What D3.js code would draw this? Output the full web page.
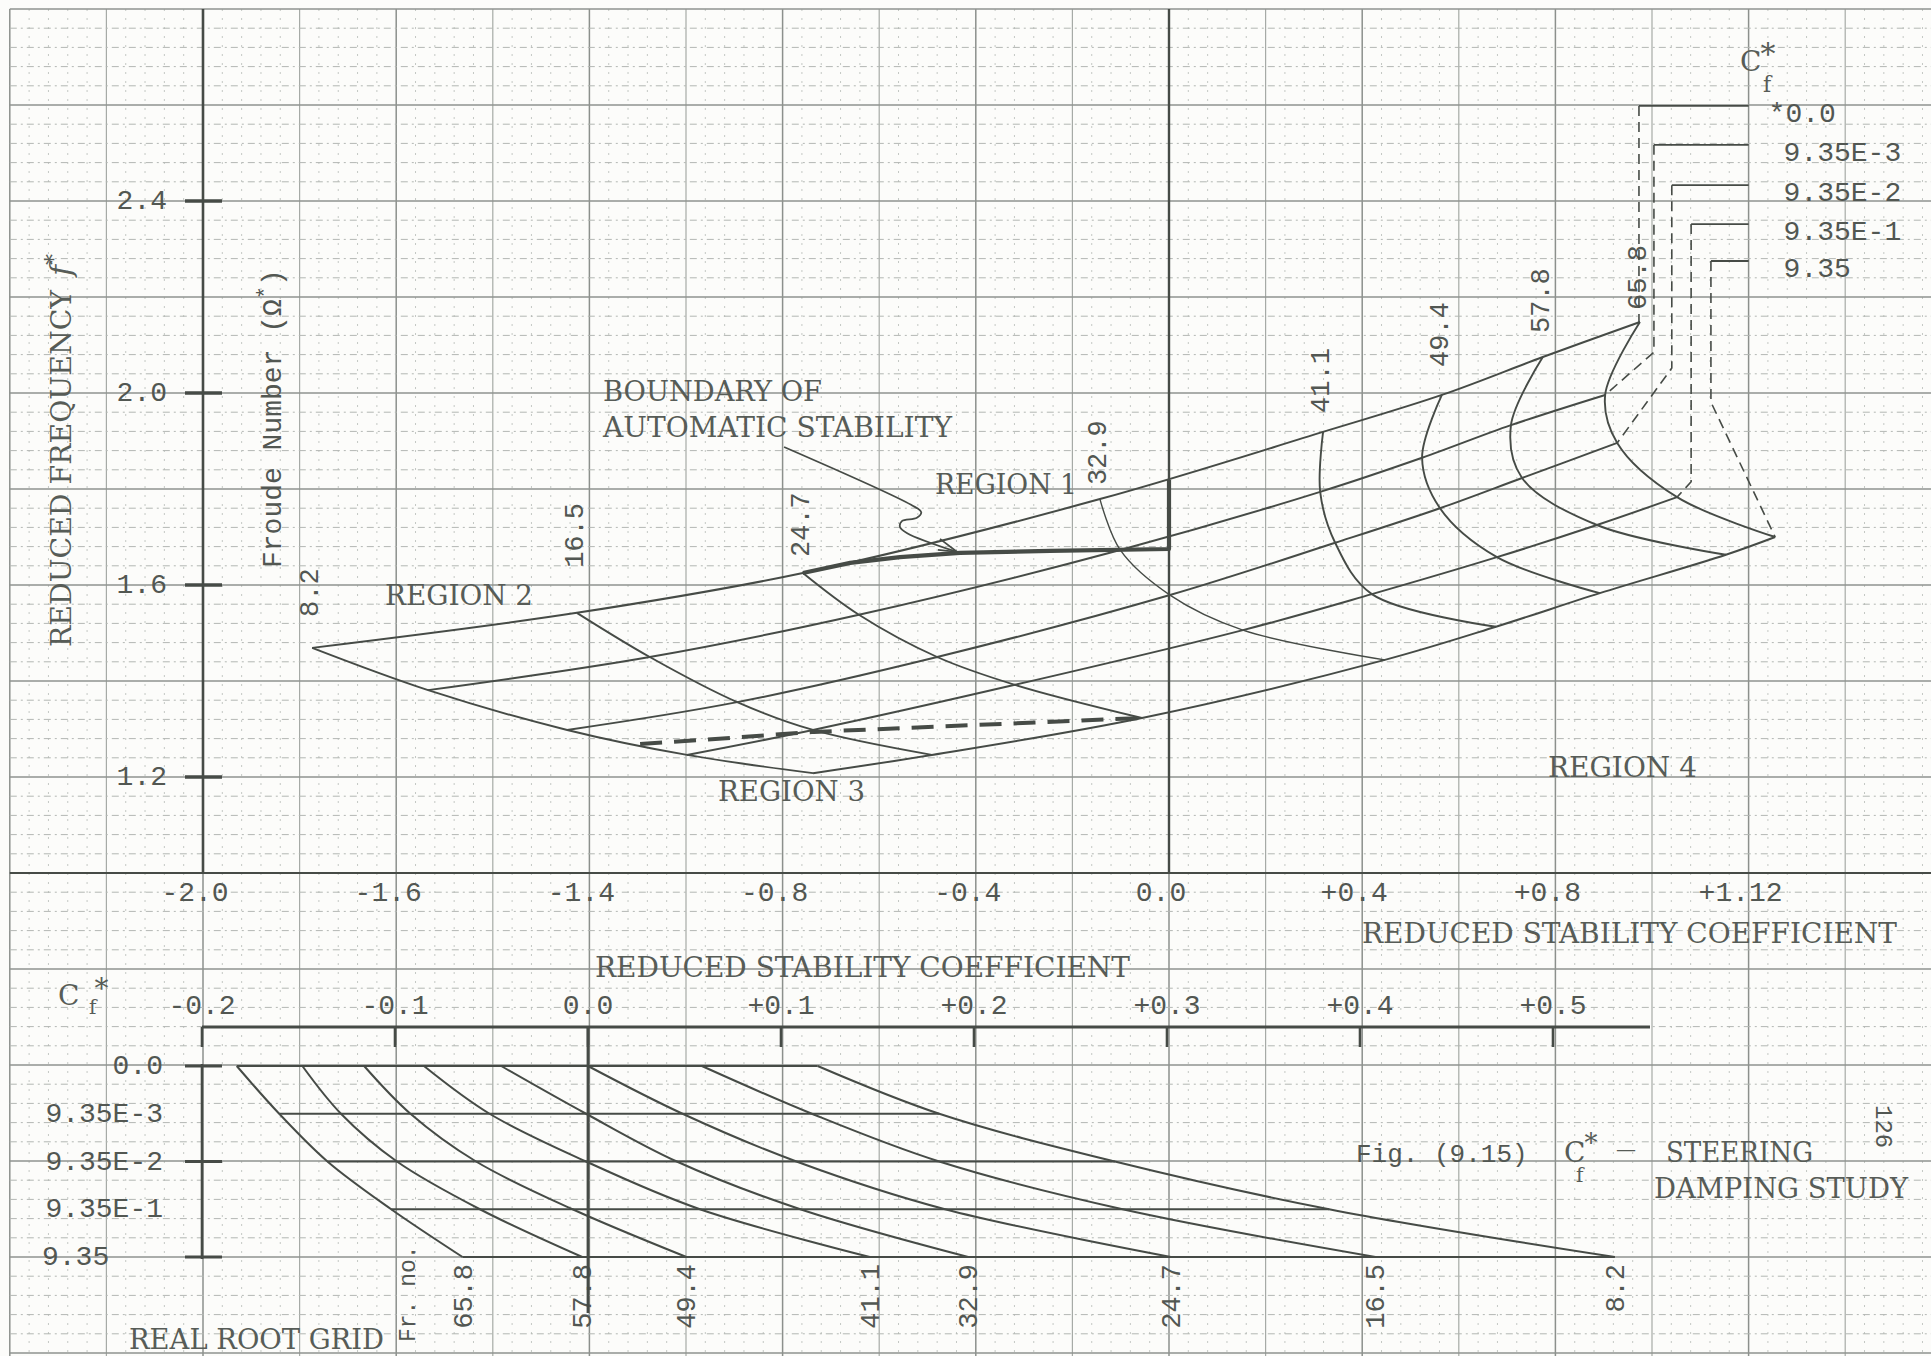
<!DOCTYPE html>
<html>
<head>
<meta charset="utf-8">
<script src="https://cdn.jsdelivr.net/npm/d3@7/dist/d3.min.js"></script>
<style>
  html, body { margin:0; padding:0; background:#fcfcfa; }
  svg { display:block; }
  .lt { font-family:"DejaVu Serif","Liberation Serif",serif; fill:#575c57; }
  .tw { font-family:"Liberation Mono","DejaVu Sans Mono",monospace; fill:#525752; }
</style>
</head>
<body>
<svg id="chart" width="1931" height="1356" viewBox="0 0 1931 1356"></svg>
<script>
// ================= DATA =================
const froudeNumbers = ["8.2","16.5","24.7","32.9","41.1","49.4","57.8","65.8"];
const cfValues = ["0.0","9.35E-3","9.35E-2","9.35E-1","9.35"];

const freqTickValues = [2.4, 2.0, 1.6, 1.2];
const freqTickLabels = ["2.4","2.0","1.6","1.2"];
const stabTickValues = [-2.0,-1.6,-1.2,-0.8,-0.4,0.0,0.4,0.8,1.2];
const stabTickLabels = ["-2.0","-1.6","-1.4","-0.8","-0.4","0.0","+0.4","+0.8","+1.12"];
const realTickValues = [-0.2,-0.1,0.0,0.1,0.2,0.3,0.4,0.5];
const realTickLabels = ["-0.2","-0.1","0.0","+0.1","+0.2","+0.3","+0.4","+0.5"];

// complex roots: rows = Froude number, columns = C*f
const complexSigma = [
  [-1.774,-1.534,-1.246,-0.998,-0.737],
  [-1.226,-1.075,-0.894,-0.737,-0.491],
  [-0.758,-0.642,-0.480,-0.319,-0.056],
  [-0.143,-0.101, 0.002, 0.153, 0.447],
  [ 0.319, 0.313, 0.344, 0.420, 0.677],
  [ 0.565, 0.524, 0.561, 0.679, 0.892],
  [ 0.774, 0.708, 0.731, 0.886, 1.153],
  [ 0.975, 0.903, 0.928, 1.052, 1.255]
];
const complexFreq = [
  [1.469,1.381,1.298,1.246,1.208],
  [1.542,1.450,1.356,1.298,1.246],
  [1.625,1.538,1.450,1.392,1.323],
  [1.779,1.673,1.579,1.506,1.444],
  [1.919,1.794,1.688,1.581,1.513],
  [1.996,1.865,1.760,1.658,1.583],
  [2.075,1.933,1.823,1.725,1.663],
  [2.148,1.996,1.896,1.783,1.700]
];
// real roots: rows = Froude number, columns = C*f
const realRootSigma = [
  [ 0.119, 0.182, 0.273, 0.384, 0.532],
  [ 0.059, 0.116, 0.182, 0.277, 0.408],
  [ 0.000, 0.049, 0.108, 0.185, 0.302],
  [-0.045,-0.001, 0.046, 0.110, 0.197],
  [-0.085,-0.051,-0.001, 0.058, 0.146],
  [-0.116,-0.092,-0.058,-0.008, 0.051],
  [-0.148,-0.128,-0.099,-0.056,-0.003],
  [-0.182,-0.160,-0.135,-0.102,-0.065]
];
const boundarySigma = [-0.758,-0.660,-0.557,-0.433,-0.246,0.0,0.0];
const boundaryFreq  = [1.625,1.646,1.658,1.667,1.671,1.675,1.819];
const region3Sigma = [-1.095,-0.971,-0.735,-0.056];
const region3Freq  = [1.269,1.277,1.294,1.323];
const arrowSigma = [-0.797,-0.534,-0.513,-0.522,-0.553,-0.557,-0.542,-0.439];
const arrowFreq  = [1.8875,1.767,1.752,1.740,1.733,1.721,1.708,1.669];
const legendLeaderSigma = [0.973,1.004,1.041,1.081,1.122];
const legendRowFreq = [2.598,2.517,2.433,2.352,2.275];
const legendBendFreq = [2.148,2.085,2.052,1.815,1.981];

// ================= DRAWING =================
const svg = d3.select("#chart");
const INK = "#464b46";

const xU = d3.scaleLinear().domain([-2.0, 0.0]).range([203, 1169]);
const yU = d3.scaleLinear().domain([2.0, 1.0]).range([393, 873]);
const xL = d3.scaleLinear().domain([-0.2, 0.5]).range([202, 1553]);
const yL = d3.scalePoint().domain(cfValues).range([1066, 1257]);

svg.append("rect").attr("width",1931).attr("height",1356).attr("fill","#fcfcfa");

// ---- graph paper ----
const grid = svg.append("g");
for (let k = 0; ; k++) {
  const v = -2.4 + k*0.04, x = xU(v);
  if (x > 1936) break;
  const major = k % 5 === 0, dark = k % 10 === 0;
  grid.append("line").attr("x1",x).attr("x2",x).attr("y1",yU(2.8)).attr("y2",1356)
    .attr("stroke", dark ? "#8c908c" : (major ? "#a6aaa6" : "#c4c8c4"))
    .attr("stroke-width", dark ? 1.5 : (major ? 1.2 : 1))
    .attr("stroke-dasharray", major ? null : "2,7");
}
for (let k = 0; ; k++) {
  const f = 2.8 - k*0.04, y = yU(f);
  if (y > 1356) break;
  const major = k % 5 === 0;
  grid.append("line").attr("x1",xU(-2.4)).attr("x2",1931).attr("y1",y).attr("y2",y)
    .attr("stroke", major ? "#8f938f" : "#b3b7b3")
    .attr("stroke-width", major ? 1.4 : 1)
    .attr("stroke-dasharray", major ? null : "7,4,2,4");
}

// ---- upper chart axes ----
const ax = svg.append("g").attr("stroke", INK).attr("fill","none");
ax.append("line").attr("x1",xU(-2.0)).attr("x2",xU(-2.0)).attr("y1",yU(2.8)).attr("y2",yU(1.0)).attr("stroke-width",2.6);
ax.append("line").attr("x1",xU(0)).attr("x2",xU(0)).attr("y1",yU(2.8)).attr("y2",yU(1.0)).attr("stroke-width",2.4);
ax.append("line").attr("x1",xU(-2.4)).attr("x2",1931).attr("y1",yU(1.0)).attr("y2",yU(1.0)).attr("stroke-width",2.2);
freqTickValues.forEach(v => {
  ax.append("line").attr("x1",185).attr("x2",222).attr("y1",yU(v)).attr("y2",yU(v)).attr("stroke-width",3.5);
});

const txt = svg.append("g");
freqTickValues.forEach((v,i) => {
  txt.append("text").attr("class","tw").attr("font-size",28).attr("text-anchor","end")
    .attr("x",167).attr("y",yU(v)+8).text(freqTickLabels[i]);
});
stabTickValues.forEach((v,i) => {
  txt.append("text").attr("class","tw").attr("font-size",28).attr("text-anchor","middle")
    .attr("x",xU(v)-8).attr("y",901).text(stabTickLabels[i]);
});

// ---- mesh of complex roots ----
const lineU = d3.line().x(d => xU(d[0])).y(d => yU(d[1])).curve(d3.curveCatmullRom.alpha(0.5));
const mesh = svg.append("g").attr("fill","none").attr("stroke",INK);
cfValues.forEach((c,j) => {
  const pts = froudeNumbers.map((fr,i) => [complexSigma[i][j], complexFreq[i][j]]);
  mesh.append("path").attr("d", lineU(pts)).attr("stroke-width",2);
});
froudeNumbers.forEach((fr,i) => {
  const pts = cfValues.map((c,j) => [complexSigma[i][j], complexFreq[i][j]]);
  mesh.append("path").attr("d", lineU(pts)).attr("stroke-width", i === 3 ? 1.4 : 1.9);
});
const lineLin = d3.line().x(d => xU(d[0])).y(d => yU(d[1]));
mesh.append("path").attr("d", lineLin(boundarySigma.map((s,i)=>[s,boundaryFreq[i]])))
  .attr("stroke-width",4.2).attr("stroke-linejoin","round");
mesh.append("path").attr("d", lineLin(region3Sigma.map((s,i)=>[s,region3Freq[i]])))
  .attr("stroke-width",4).attr("stroke-dasharray","22,12");
const arrowPts = arrowSigma.map((s,i)=>[s,arrowFreq[i]]);
mesh.append("path").attr("d", d3.line().x(d=>xU(d[0])).y(d=>yU(d[1])).curve(d3.curveCatmullRom)(arrowPts)).attr("stroke-width",1.8);
const tip = arrowPts[arrowPts.length-1];
const tx = xU(tip[0]), ty = yU(tip[1]);
mesh.append("path").attr("d", `M${tx-17},${ty-13}L${tx},${ty}L${tx-19},${ty-2}`).attr("stroke-width",1.8);

// legend leaders (C*f) to the 65.8 curve
const legG = svg.append("g").attr("fill","none").attr("stroke",INK);
cfValues.forEach((c,j) => {
  const lx = xU(legendLeaderSigma[j]), ly = yU(legendRowFreq[j]);
  legG.append("line").attr("x1",lx).attr("x2",xU(1.2)).attr("y1",ly).attr("y2",ly).attr("stroke-width",1.8);
  const by = yU(legendBendFreq[j]);
  const nx = xU(complexSigma[7][j]), ny = yU(complexFreq[7][j]);
  legG.append("path").attr("d",`M${lx},${ly}L${lx},${by}L${nx},${ny}`)
    .attr("stroke-width",1.6).attr("stroke-dasharray","10,6");
  const t = txt.append("text").attr("class","tw").attr("font-size",28)
    .attr("x", xU(1.2)+35).attr("y", ly+16);
  if (j === 0) { t.append("tspan").attr("dx",-15).text("*"); t.append("tspan").text(c); }
  else t.text(c);
});
const cfHead = txt.append("text").attr("class","lt").attr("font-size",28).attr("x",1740).attr("y",71);
cfHead.append("tspan").text("C");
cfHead.append("tspan").attr("font-size",30).attr("dy",-7).attr("dx",-1).text("*");
cfHead.append("tspan").attr("font-size",22).attr("x",1763).attr("dy",28).text("f");

// Froude number labels (upper)
const frLabelLift = [31,45,16,14,19,28,24,12];
froudeNumbers.forEach((fr,i) => {
  const cx = xU(complexSigma[i][0]) - 3, by = yU(complexFreq[i][0]) - frLabelLift[i];
  txt.append("text").attr("class","tw").attr("font-size",27).attr("text-anchor","start")
    .attr("transform",`translate(${cx+9},${by}) rotate(-90)`).text(fr);
});

// axis titles upper
txt.append("text").attr("class","lt").attr("font-size",28)
  .attr("transform","translate(71,647) rotate(-90)")
  .attr("textLength",357).attr("lengthAdjust","spacingAndGlyphs").text("REDUCED FREQUENCY");
const fstar = txt.append("text").attr("class","lt").attr("font-size",30)
  .attr("transform","translate(71,276) rotate(-90)");
fstar.append("tspan").attr("font-style","italic").text("f");
fstar.append("tspan").attr("font-size",22).attr("dy",-10).text("*");

const fr = txt.append("text").attr("class","tw").attr("font-size",28)
  .attr("transform","translate(281,568) rotate(-90)");
fr.append("tspan").text("Froude Number (\u03A9");
fr.append("tspan").attr("font-size",22).attr("dy",-9).text("*");
fr.append("tspan").attr("dy",9).text(")");

txt.append("text").attr("class","lt").attr("font-size",28).attr("x",1362).attr("y",943)
  .attr("textLength",535).attr("lengthAdjust","spacingAndGlyphs").text("REDUCED STABILITY COEFFICIENT");
txt.append("text").attr("class","lt").attr("font-size",28).attr("x",603).attr("y",401)
  .attr("textLength",219).attr("lengthAdjust","spacingAndGlyphs").text("BOUNDARY OF");
txt.append("text").attr("class","lt").attr("font-size",28).attr("x",603).attr("y",437)
  .attr("textLength",349).attr("lengthAdjust","spacingAndGlyphs").text("AUTOMATIC STABILITY");
[["REGION 1",935,494,142],["REGION 2",385,605,148],["REGION 3",718,801,147],["REGION 4",1548,777,149]]
  .forEach(r => txt.append("text").attr("class","lt").attr("font-size",28).attr("x",r[1]).attr("y",r[2])
    .attr("textLength",r[3]).attr("lengthAdjust","spacingAndGlyphs").text(r[0]));

// ================= LOWER CHART (real root grid) =================
const lax = svg.append("g").attr("stroke",INK).attr("fill","none");
lax.append("line").attr("x1",xL(-0.2)).attr("x2",1650).attr("y1",1027).attr("y2",1027).attr("stroke-width",3.2);
realTickValues.forEach(v => {
  lax.append("line").attr("x1",xL(v)).attr("x2",xL(v)).attr("y1",1027).attr("y2",1047).attr("stroke-width",2.6);
});
lax.append("line").attr("x1",xL(-0.2)).attr("x2",xL(-0.2)).attr("y1",yL(cfValues[0])-2).attr("y2",yL(cfValues[4])+2).attr("stroke-width",2.6);
lax.append("line").attr("x1",xL(0)).attr("x2",xL(0)).attr("y1",1027).attr("y2",1313).attr("stroke-width",2.8);
[0,2,4].forEach(j => {
  const y = yL(cfValues[j]);
  lax.append("line").attr("x1",185).attr("x2",222).attr("y1",y).attr("y2",y).attr("stroke-width",3.2);
});
realTickValues.forEach((v,i) => {
  txt.append("text").attr("class","tw").attr("font-size",28).attr("text-anchor","middle")
    .attr("x",xL(v)).attr("y",1014).text(realTickLabels[i]);
});

cfValues.forEach((c,j) => {
  const col = realRootSigma.map(r => r[j]);
  const y = yL(c);
  lax.append("line").attr("x1",xL(d3.min(col))).attr("x2",xL(d3.max(col)))
    .attr("y1",y).attr("y2",y).attr("stroke-width",2);
  const t = txt.append("text").attr("class","tw").attr("font-size",28).attr("y",y+8);
  if (j === 4) t.attr("x",42).attr("text-anchor","start").text(c);
  else t.attr("x",163).attr("text-anchor","end").text(c);
});
const lineL = d3.line().x(d => xL(d[0])).y(d => yL(d[1])).curve(d3.curveCatmullRom.alpha(0.5));
froudeNumbers.forEach((frn,i) => {
  const pts = cfValues.map((c,j) => [realRootSigma[i][j], c]);
  lax.append("path").attr("d", lineL(pts)).attr("stroke-width",2);
  const ex = xL(realRootSigma[i][4]);
  txt.append("text").attr("class","tw").attr("font-size",27).attr("text-anchor","end")
    .attr("transform",`translate(${ex+9},1264) rotate(-90)`).text(frn);
});
txt.append("text").attr("class","tw").attr("font-size",23).attr("text-anchor","start")
  .attr("transform","translate(415,1342) rotate(-90)").text("Fr. no.");

txt.append("text").attr("class","lt").attr("font-size",28).attr("x",595).attr("y",977)
  .attr("textLength",535).attr("lengthAdjust","spacingAndGlyphs").text("REDUCED STABILITY COEFFICIENT");
const cfLow = txt.append("text").attr("class","lt").attr("font-size",28).attr("x",58).attr("y",1005);
cfLow.append("tspan").text("C");
cfLow.append("tspan").attr("dx",15).attr("dy",-7).text("*");
cfLow.append("tspan").attr("font-size",20).attr("x",89).attr("dy",16).text("f");
txt.append("text").attr("class","lt").attr("font-size",28).attr("x",129).attr("y",1349)
  .attr("textLength",255).attr("lengthAdjust","spacingAndGlyphs").text("REAL ROOT GRID");

// caption
txt.append("text").attr("class","tw").attr("font-size",26).attr("x",1356).attr("y",1162).text("Fig. (9.15)");
const cap = txt.append("text").attr("class","lt").attr("font-size",28).attr("x",1564).attr("y",1162);
cap.append("tspan").text("C");
cap.append("tspan").attr("font-size",26).attr("dy",-10).attr("dx",-1).text("*");
cap.append("tspan").attr("font-size",20).attr("x",1576).attr("dy",30).text("f");
txt.append("text").attr("class","lt").attr("font-size",20).attr("x",1616).attr("y",1156).text("\u2014");
txt.append("text").attr("class","lt").attr("font-size",28).attr("x",1666).attr("y",1162)
  .attr("textLength",147).attr("lengthAdjust","spacingAndGlyphs").text("STEERING");
txt.append("text").attr("class","lt").attr("font-size",28).attr("x",1654).attr("y",1198)
  .attr("textLength",254).attr("lengthAdjust","spacingAndGlyphs").text("DAMPING STUDY");
txt.append("text").attr("class","tw").attr("font-size",24)
  .attr("transform","translate(1876,1105) rotate(90)").text("126");
</script>
</body>
</html>
